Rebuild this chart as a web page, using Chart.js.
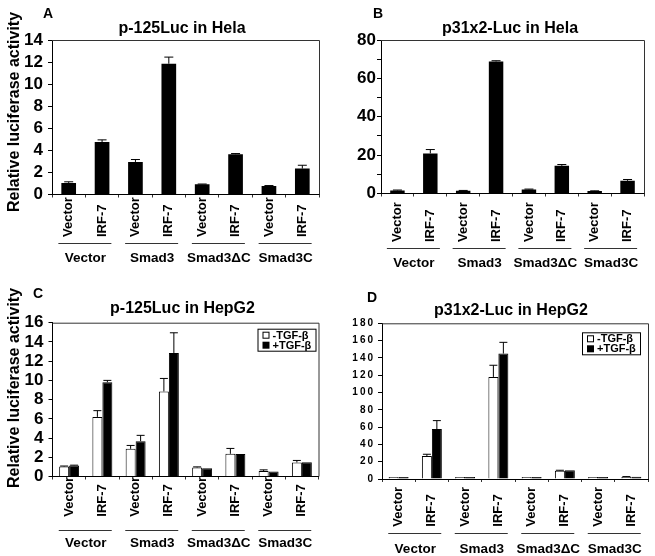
<!DOCTYPE html>
<html>
<head>
<meta charset="utf-8">
<script src="https://cdn.jsdelivr.net/npm/chart.js@4.4.1/dist/chart.umd.min.js"></script>
<style>
  body { margin: 0; background: #fff; }
  #wrap { position: relative; width: 655px; height: 556px; }
  canvas { position: absolute; }
</style>
</head>
<body>
<div id="wrap">
  <canvas id="pA" width="327" height="278" style="left:0;top:0"></canvas>
  <canvas id="pB" width="328" height="278" style="left:327px;top:0"></canvas>
  <canvas id="pC" width="327" height="278" style="left:0;top:278px"></canvas>
  <canvas id="pD" width="328" height="278" style="left:327px;top:278px"></canvas>
</div>
<script>
// bar labels and group labels under the axis
const categories = ['Vector', 'IRF-7', 'Vector', 'IRF-7', 'Vector', 'IRF-7', 'Vector', 'IRF-7'];
const groups = ['Vector', 'Smad3', 'Smad3\u0394C', 'Smad3C'];
const legendLabels = ['-TGF-\u03b2', '+TGF-\u03b2'];

// A: p-125Luc in Hela
const helaP125 = [1.05, 4.75, 2.95, 11.85, 0.93, 3.65, 0.78, 2.35];
const helaP125Err = [0.1, 0.2, 0.22, 0.6, 0.02, 0.06, 0.03, 0.3];
// B: p31x2-Luc in Hela
const helaP31 = [1.6, 20.9, 1.4, 68.8, 2.1, 14.4, 1.3, 6.6];
const helaP31Err = [0.2, 2.0, 0.2, 0.4, 0.2, 0.7, 0.1, 0.7];
// C: p-125Luc in HepG2
const hepP125Minus = [1.04, 6.2, 2.88, 8.85, 0.94, 2.36, 0.56, 1.46];
const hepP125MinusErr = [0.05, 0.65, 0.35, 1.35, 0.06, 0.56, 0.13, 0.21];
const hepP125Plus = [1.15, 9.8, 3.68, 12.85, 0.87, 2.33, 0.52, 1.49];
const hepP125PlusErr = [0.03, 0.2, 0.6, 2.1, 0, 0, 0, 0];
// D: p31x2-Luc in HepG2
const hepP31Minus = [1.2, 26.6, 1.5, 118, 0.8, 9.6, 0.7, 2.3];
const hepP31MinusErr = [0, 2, 0, 13.5, 0, 0.5, 0, 0.5];
const hepP31Plus = [1.4, 57.8, 2.2, 145, 0.8, 10, 0.7, 2.6];
const hepP31PlusErr = [0, 9.7, 0, 13, 0, 0, 0, 0];

const FONT = '"Liberation Sans", Arial, Helvetica, sans-serif';
Chart.defaults.font.family = FONT;
Chart.defaults.color = '#000';

function makePanel(id, p) {
  const canvas = document.getElementById(id);
  const W = canvas.width, H = canvas.height;

  const decor = {
    id: 'decor',
    beforeDraw(chart) {
      if (p.letterSpacing) chart.ctx.letterSpacing = p.letterSpacing;
    },
    beforeDatasetsDraw(chart) {
      chart.ctx.letterSpacing = '0px';
    },
    afterDatasetsDraw(chart) {
      const ctx = chart.ctx;
      const y = chart.scales.y;
      ctx.save();
      ctx.strokeStyle = '#000';
      ctx.lineWidth = 1;
      chart.data.datasets.forEach((ds, i) => {
        const meta = chart.getDatasetMeta(i);
        meta.data.forEach((bar, j) => {
          const e = ds.errors[j];
          if (!e) return;
          const y0 = y.getPixelForValue(ds.data[j]);
          const y1 = y.getPixelForValue(ds.data[j] + e);
          ctx.beginPath();
          ctx.moveTo(bar.x, y0);
          ctx.lineTo(bar.x, y1);
          ctx.moveTo(bar.x - p.cap / 2, y1);
          ctx.lineTo(bar.x + p.cap / 2, y1);
          ctx.stroke();
        });
      });
      ctx.restore();
    },
    afterDraw(chart) {
      const ctx = chart.ctx;
      const a = chart.chartArea;
      const x = chart.scales.x;
      ctx.save();
      ctx.letterSpacing = '0px';
      // top and right frame
      ctx.strokeStyle = '#333';
      ctx.lineWidth = 1;
      ctx.beginPath();
      ctx.moveTo(a.left, a.top + 0.5);
      ctx.lineTo(a.right + 0.5, a.top + 0.5);
      ctx.lineTo(a.right + 0.5, a.bottom);
      ctx.stroke();

      ctx.fillStyle = '#000';
      // panel letter and title
      ctx.font = 'bold 14px ' + FONT;
      ctx.textAlign = 'left';
      ctx.textBaseline = 'alphabetic';
      ctx.fillText(p.letter, p.letterX, p.letterY);
      ctx.font = 'bold 16px ' + FONT;
      ctx.textAlign = 'center';
      ctx.fillText(p.title, p.titleX, p.titleY);

      // y axis title
      if (p.yTitle) {
        ctx.save();
        ctx.translate(p.yTitleX, p.yTitleY);
        ctx.rotate(-Math.PI / 2);
        ctx.textBaseline = 'middle';
        ctx.fillText(p.yTitle, 0, 0);
        ctx.restore();
      }

      // rotated bar labels
      ctx.font = 'bold 13px ' + FONT;
      chart.data.labels.forEach((lab, i) => {
        const cx = x.getPixelForValue(i);
        ctx.save();
        ctx.translate(cx, p.labelBottom);
        ctx.rotate(-Math.PI / 2);
        ctx.textAlign = 'left';
        ctx.textBaseline = 'middle';
        ctx.fillText(lab, 0, 0);
        ctx.restore();
      });

      // group underline and group labels
      ctx.font = 'bold 13.5px ' + FONT;
      ctx.textAlign = 'center';
      ctx.textBaseline = 'alphabetic';
      groups.forEach((g, k) => {
        const cx = (x.getPixelForValue(2 * k) + x.getPixelForValue(2 * k + 1)) / 2;
        ctx.strokeStyle = '#333';
        ctx.beginPath();
        ctx.moveTo(cx - 27, p.lineY + 0.5);
        ctx.lineTo(cx + 26, p.lineY + 0.5);
        ctx.stroke();
        ctx.fillText(g, cx, p.groupY);
      });

      // legend box
      if (p.legend) {
        const bw = 58, bh = 22;
        const bx = a.right - p.legend.r - bw;
        const by = a.top + p.legend.t;
        ctx.strokeStyle = '#000';
        ctx.strokeRect(bx + 0.5, by + 0.5, bw, bh);
        ctx.font = 'bold 11px ' + FONT;
        ctx.textAlign = 'left';
        ctx.textBaseline = 'middle';
        chart.data.datasets.forEach((ds, i) => {
          const ly = by + 6 + i * 10;
          if (ds.backgroundColor === '#fff') {
            ctx.fillStyle = '#fff';
            ctx.fillRect(bx + 5, ly - 3, 6, 6);
            ctx.strokeRect(bx + 5.5, ly - 2.5, 6, 6);
          } else {
            ctx.fillStyle = '#000';
            ctx.fillRect(bx + 5, ly - 3, 7, 7);
          }
          ctx.fillStyle = '#000';
          ctx.fillText(ds.label, bx + 15, ly + 1);
        });
      }
      ctx.restore();
    }
  };

  return new Chart(canvas, {
    type: 'bar',
    data: { labels: categories, datasets: p.datasets },
    options: {
      responsive: false,
      animation: false,
      events: [],
      layout: { padding: { top: p.box.top, right: W - p.box.right, left: 0, bottom: 0 } },
      plugins: { legend: { display: false }, tooltip: { enabled: false } },
      scales: {
        x: {
          afterFit: s => { s.height = H - p.box.bottom; },
          ticks: { display: false },
          grid: { drawOnChartArea: false, tickLength: 3, color: '#333', offset: true },
          border: { color: '#000', width: 1 }
        },
        y: {
          min: 0,
          max: p.yMax,
          afterFit: s => { s.width = p.box.left; },
          ticks: {
            stepSize: p.yStep,
            autoSkip: false,
            padding: p.tickPadding,
            font: { size: p.tickSize, weight: 'bold' },
            color: '#000',
            callback: p.tickCallback || (v => v)
          },
          grid: { drawOnChartArea: false, tickLength: 4, color: '#000' },
          border: { color: '#000', width: 1 }
        }
      }
    },
    plugins: [decor]
  });
}

const singleBar = (data, errors) => [{
  data, errors,
  backgroundColor: '#000', borderWidth: 0, minBarLength: 2,
  categoryPercentage: 0.44, barPercentage: 1
}];
const pairBars = (minus, minusErr, plus, plusErr) => [
  { label: legendLabels[0], data: minus, errors: minusErr, backgroundColor: '#fff',
    borderColor: '#000', borderWidth: 1, minBarLength: 2, categoryPercentage: 0.6, barPercentage: 1 },
  { label: legendLabels[1], data: plus, errors: plusErr, backgroundColor: '#000',
    borderColor: '#000', borderWidth: 1, minBarLength: 2, categoryPercentage: 0.6, barPercentage: 1 }
];

makePanel('pA', {
  datasets: singleBar(helaP125, helaP125Err),
  yMax: 14, yStep: 2, tickSize: 17, tickPadding: 5, cap: 9,
  box: { left: 52, right: 319, top: 40, bottom: 194.5 },
  letter: 'A', letterX: 43, letterY: 18,
  title: 'p-125Luc in Hela', titleX: 182, titleY: 33,
  yTitle: 'Relative luciferase activity', yTitleX: 15, yTitleY: 112,
  labelBottom: 237, lineY: 243, groupY: 262
});

makePanel('pB', {
  datasets: singleBar(helaP31, helaP31Err),
  yMax: 80, yStep: 10, tickSize: 17, tickPadding: 1, cap: 9,
  tickCallback: v => (v % 20 === 0 ? v : ''),
  box: { left: 54, right: 317, top: 40, bottom: 193.5 },
  letter: 'B', letterX: 46, letterY: 18,
  title: 'p31x2-Luc in Hela', titleX: 183, titleY: 33,
  labelBottom: 242, lineY: 248, groupY: 267
});

makePanel('pC', {
  datasets: pairBars(hepP125Minus, hepP125MinusErr, hepP125Plus, hepP125PlusErr),
  yMax: 16, yStep: 2, tickSize: 17, tickPadding: 5, cap: 8,
  box: { left: 52.5, right: 318.5, top: 44.7, bottom: 198.5 },
  letter: 'C', letterX: 33, letterY: 20,
  title: 'p-125Luc in HepG2', titleX: 182.5, titleY: 35,
  yTitle: 'Relative luciferase activity', yTitleX: 15, yTitleY: 110,
  labelBottom: 238.7, lineY: 252, groupY: 269,
  legend: { r: 3, t: 6 }
});

makePanel('pD', {
  datasets: pairBars(hepP31Minus, hepP31MinusErr, hepP31Plus, hepP31PlusErr),
  yMax: 180, yStep: 20, tickSize: 10, tickPadding: 3, cap: 8,
  letterSpacing: '2px',
  box: { left: 55, right: 321, top: 45.3, bottom: 201 },
  letter: 'D', letterX: 40, letterY: 24,
  title: 'p31x2-Luc in HepG2', titleX: 184, titleY: 37,
  labelBottom: 248.7, lineY: 255, groupY: 275,
  legend: { r: 8, t: 9 }
});
</script>
</body>
</html>
